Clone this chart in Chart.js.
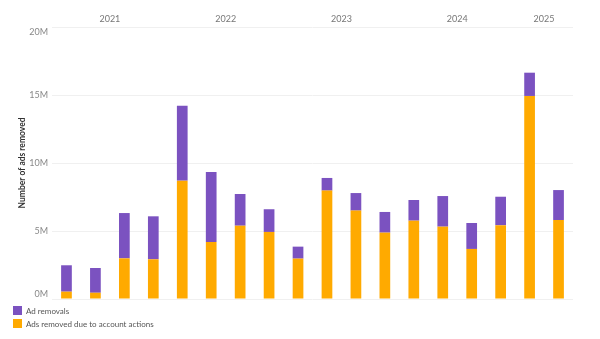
<!DOCTYPE html>
<html>
<head>
<meta charset="utf-8">
<script src="https://cdn.jsdelivr.net/npm/chart.js@4/dist/chart.umd.min.js"></script>
<style>
  html, body { margin: 0; padding: 0; background: #fff; }
  #wrap { position: relative; width: 600px; height: 339px; }
  #legend { position: absolute; left: 13px; top: 304px; font: 8px Lato, sans-serif; color: #555; }
  #legend div { display: flex; align-items: center; height: 13px; }
  #legend span.box { display: inline-block; width: 9px; height: 9px; margin-right: 4px; }
</style>
</head>
<body>
<div id="wrap">
  <canvas id="adsChart" width="600" height="339"></canvas>
  <div id="legend"></div>
</div>
<script>
// Quarterly data, 2021 Q1 - 2025 Q2 (values in ads)
const categories = [
  '2021 Q1', '2021 Q2', '2021 Q3', '2021 Q4',
  '2022 Q1', '2022 Q2', '2022 Q3', '2022 Q4',
  '2023 Q1', '2023 Q2', '2023 Q3', '2023 Q4',
  '2024 Q1', '2024 Q2', '2024 Q3', '2024 Q4',
  '2025 Q1', '2025 Q2'
];
const years = ['2021', '2022', '2023', '2024', '2025'];
// orange part (bottom of stack)
const accountActions = [
  0.54e6, 0.46e6, 2.99e6, 2.92e6,
  8.70e6, 4.19e6, 5.39e6, 4.93e6,
  2.97e6, 7.97e6, 6.50e6, 4.88e6,
  5.76e6, 5.32e6, 3.68e6, 5.42e6,
  14.93e6, 5.81e6
];
// purple part (top of stack)
const adRemovals = [
  1.94e6, 1.82e6, 3.33e6, 3.16e6,
  5.51e6, 5.15e6, 2.33e6, 1.67e6,
  0.88e6, 0.93e6, 1.29e6, 1.52e6,
  1.52e6, 2.25e6, 1.91e6, 2.10e6,
  1.71e6, 2.20e6
];
const yTicks = [0, 5e6, 10e6, 15e6, 20e6];

// year label sits in the middle of that year's quarters
const yearPos = years.map(y => {
  const idx = categories.map((c, i) => c.startsWith(y) ? i : -1).filter(i => i >= 0);
  return (idx[0] + idx[idx.length - 1]) / 2;
});

const font = 'Lato, sans-serif';

// nudge the first and last y labels inside the plot, like the original
const edgeLabels = {
  id: 'edgeLabels',
  beforeDraw(chart) {
    const items = chart.scales.y.getLabelItems(chart.chartArea);
    if (!items.length || items._nudged) return;
    items[0].options.translation[1] -= 5;
    items[items.length - 1].options.translation[1] += 5;
    items._nudged = true;
  }
};

const ctx = document.getElementById('adsChart').getContext('2d');
const adsChart = new Chart(ctx, {
  type: 'bar',
  data: {
    labels: categories,
    datasets: [
      {
        label: 'Ads removed due to account actions',
        data: accountActions,
        backgroundColor: '#FFAA00',
        barPercentage: 0.37,
        categoryPercentage: 1
      },
      {
        label: 'Ad removals',
        data: adRemovals,
        backgroundColor: '#7B52C0',
        barPercentage: 0.37,
        categoryPercentage: 1
      }
    ]
  },
  options: {
    responsive: false,
    animation: false,
    layout: { padding: { left: 0, right: 27, top: 0, bottom: 40 } },
    plugins: {
      legend: { display: false },
      tooltip: { enabled: false }
    },
    scales: {
      x: {
        stacked: true,
        display: false
      },
      x2: {
        type: 'linear',
        position: 'top',
        offset: false,
        bounds: 'data',
        min: -0.5,
        max: categories.length - 0.5,
        grid: { display: false, drawTicks: false, offset: false },
        border: { display: false },
        afterBuildTicks: (scale) => {
          scale.ticks = yearPos.map(v => ({ value: v }));
        },
        afterFit: (scale) => { scale.height = 27; },
        ticks: {
          padding: 3,
          color: '#777',
          font: { family: font, size: 9 },
          callback: (v) => years[yearPos.indexOf(v)]
        }
      },
      y: {
        stacked: true,
        min: 0,
        max: 20e6,
        afterBuildTicks: (scale) => {
          scale.ticks = yTicks.map(v => ({ value: v }));
        },
        afterFit: (scale) => { scale.width = 52; },
        grid: { color: '#f0f0f0', drawTicks: false },
        border: { display: false },
        ticks: {
          padding: 4,
          color: '#888',
          font: { family: font, size: 9 },
          callback: (v) => (v / 1e6) + 'M'
        },
        title: {
          display: true,
          text: 'Number of ads removed',
          color: '#333',
          padding: { top: 17, bottom: 0 },
          font: { family: font, size: 8.5, weight: 'bold' }
        }
      }
    }
  },
  plugins: [edgeLabels]
});

// Legend, stacked vertically like the original
const legendEl = document.getElementById('legend');
['Ad removals', 'Ads removed due to account actions'].forEach(name => {
  const ds = adsChart.data.datasets.find(d => d.label === name);
  legendEl.insertAdjacentHTML('beforeend',
    `<div><span class="box" style="background:${ds.backgroundColor}"></span>${ds.label}</div>`);
});
</script>
</body>
</html>
